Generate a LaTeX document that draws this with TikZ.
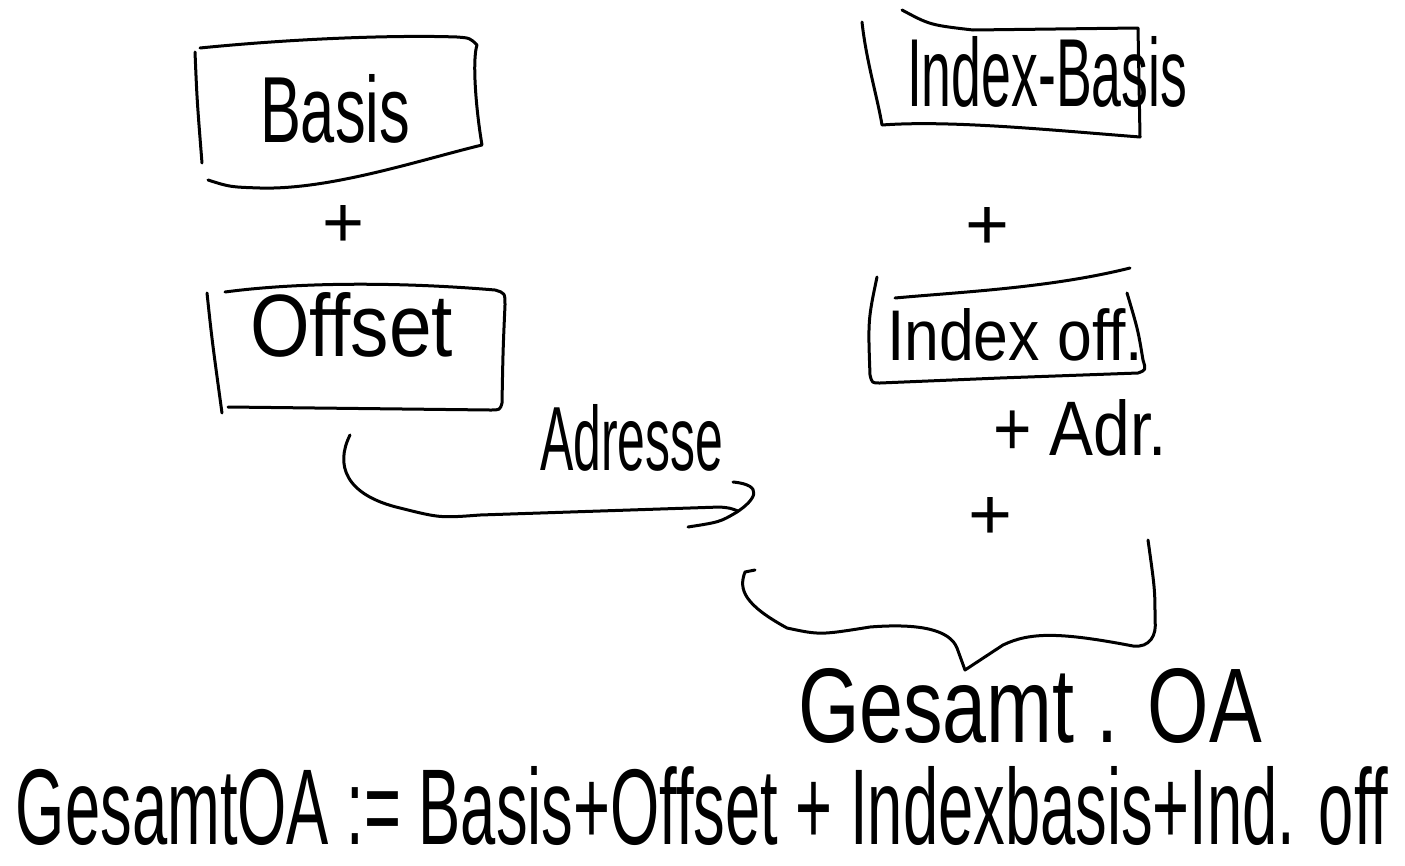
\documentclass[tikz,border=0pt]{standalone}
\usepackage{graphicx}
\usepackage{fontspec}
\setmainfont{Liberation Sans}
\newcommand{\handtext}[3]{\resizebox{#1pt}{#2pt}{#3}}
\begin{document}
\begin{tikzpicture}[x=1pt,y=-1pt,
  hand/.style={line width=3pt,line cap=round,line join=round,black},
  txt/.style={inner sep=0pt,outer sep=0pt,black}]
\useasboundingbox[fill=white] (0,0) rectangle (1405,865);

% ---- Basis box
\draw[hand] (195,52) .. controls (197,100) .. (202,163);
\draw[hand] (200,48) .. controls (300,38) and (400,35) .. (457,37)
  .. controls (470,38) .. (477,45) .. controls (472,60) and (476,110) .. (482,145)
  .. controls (420,160) and (330,190) .. (260,188) .. controls (230,187) .. (208,180);
\node[txt,anchor=base west] (basis) at (260,142) {\handtext{150}{68}{Basis}};
\node[txt] (plusA) at (343,226) {\handtext{42}{42}{+}};

% ---- Offset box
\draw[hand] (207,293) .. controls (212,340) .. (222,413);
\draw[hand] (225,292) .. controls (300,282) and (400,282) .. (495,290)
  .. controls (505,293) .. (505,305) .. controls (503,350) .. (502,403)
  .. controls (500,410) .. (490,410) -- (228,407);
\node[txt,anchor=base west] (offset) at (250,356) {\handtext{203}{64}{Offset}};

% ---- Adresse curve
\draw[hand] (350,435) .. controls (335,465) and (345,495) .. (400,508)
  .. controls (440,518) .. (480,515) -- (720,507) .. controls (730,508) .. (738,511);
\draw[hand] (733,482) .. controls (765,485) and (755,500) .. (737,512)
  .. controls (720,522) .. (688,527);
\node[txt,anchor=base west] (adresse) at (540,470) {\handtext{183}{66}{Adresse}};

% ---- Index-Basis box
\draw[hand] (862,22) .. controls (866,60) and (878,100) .. (882,125)
  .. controls (950,120) and (1050,130) .. (1140,137);
\draw[hand] (902,10) .. controls (930,25) .. (973,30) -- (1138,28) -- (1140,137);
\node[txt,anchor=base west] (indexbasis) at (907,106) {\handtext{280}{70}{Index-Basis}};
\node[txt] (plusB) at (987,228) {\handtext{44}{42}{+}};

% ---- Index off box
\draw[hand] (877,277) .. controls (868,320) .. (870,375) .. controls (872,383) .. (880,383)
  -- (1000,378) -- (1138,373) .. controls (1146,370) .. (1143,360)
  .. controls (1138,330) .. (1127,293);
\draw[hand] (895,298) .. controls (960,292) and (1050,288) .. (1130,268);
\node[txt,anchor=base west] (indexoff) at (887,360) {\handtext{256}{52}{Index off.}};
\node[txt,anchor=base west] (adr) at (993,455) {\handtext{174}{56}{+ Adr.}};
\node[txt] (plusC) at (990,518) {\handtext{44}{42}{+}};

% ---- brace
\draw[hand] (755,570) -- (745,572) .. controls (738,590) and (745,605) .. (787,628)
  .. controls (820,635) .. (870,627) .. controls (920,623) and (950,630) .. (957,648)
  -- (965,670) -- (1003,645) .. controls (1030,632) and (1060,632) .. (1133,646)
  .. controls (1150,648) and (1157,635) .. (1155,620) .. controls (1155,590) .. (1148,540);

% ---- totals
\node[txt,anchor=base west] (gesamt) at (798,742) {\handtext{464}{74}{Gesamt . OA}};
\node[txt,anchor=base west] (formula) at (16,844) {\handtext{1372}{78}{GesamtOA := Basis+Offset + Indexbasis+Ind. off}};
\end{tikzpicture}
\end{document}
